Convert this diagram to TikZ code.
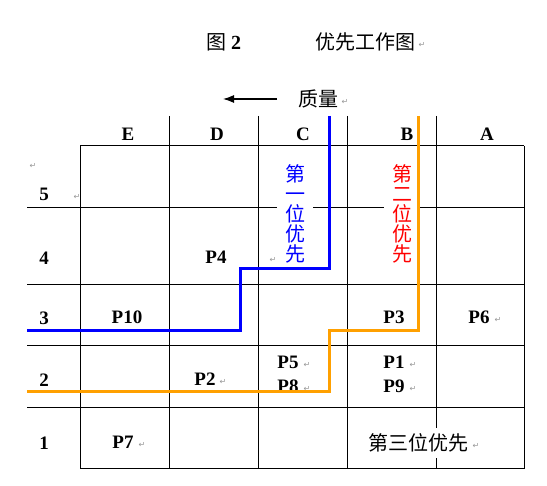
\documentclass[tikz,border=0pt]{standalone}
\usepackage{fontspec}
\setmainfont{Liberation Serif}
\newfontfamily\cjk{Noto Sans CJK SC}
\newfontfamily\symfont{DejaVu Sans}
\usetikzlibrary{arrows.meta}
\definecolor{prioblue}{RGB}{0,0,255}
\definecolor{prioorange}{RGB}{255,160,0}
\definecolor{priored}{RGB}{255,0,0}
\definecolor{markgray}{RGB}{150,150,150}

\begin{document}
\begin{tikzpicture}[x=1pt,y=-1pt,
  gridline/.style={line width=1pt},
  prioline/.style={line width=3pt, line join=miter},
  head/.style={font=\bfseries\fontsize{19}{19}\selectfont, inner sep=0pt},
  job/.style={font=\bfseries\fontsize{19}{19}\selectfont, inner sep=0pt},
  hanzi/.style={font=\cjk\fontsize{20}{20}\selectfont, inner sep=0pt},
  vtext/.style={font=\cjk\fontsize{20}{20}\selectfont, align=center, fill=white, inner xsep=8pt, inner ysep=1pt},
  retmark/.style={font=\symfont\fontsize{8}{8}\selectfont, text=markgray, inner sep=0pt}]
\useasboundingbox (0,0) rectangle (547,486);
% Title
\node[hanzi] (figno) at (224,42) {图 \rmfamily\bfseries 2};
\node[hanzi] (title) at (365,42) {优先工作图};
\node[retmark] (titleret) at (422,45) {↵};
% Quality arrow
\node[hanzi] (quality) at (318,99) {质量};
\node[retmark] (qualityret) at (345,102) {↵};
\coordinate (qtail) at (277,99);
\coordinate (qhead) at (223,99);
\draw[line width=1.2pt, -{Latex[length=11pt,width=8pt]}] (qtail) -- (qhead);
% Grid
\foreach \x in {169,258,347,436}
  \draw[gridline] (\x,116) -- (\x,469);
\foreach \x in {80,524}
  \draw[gridline] (\x,146) -- (\x,469);
\foreach \y in {208,285,346,408}
  \draw[gridline] (27,\y) -- (524,\y);
\draw[gridline] (80,146) -- (524,146);
\draw[gridline] (80,469) -- (524,469);
% Column heads
\node[head] (colE) at (128,134) {E};
\node[head] (colD) at (217,134) {D};
\node[head] (colC) at (303,134) {C};
\node[head] (colB) at (407,134) {B};
\node[head] (colA) at (487,134) {A};
% Row heads
\node[head] (row5) at (44,194) {5};
\node[head] (row4) at (44,258) {4};
\node[head] (row3) at (44,318) {3};
\node[head] (row2) at (44,380) {2};
\node[head] (row1) at (44,443) {1};
\node[retmark] (row5reta) at (33,166) {↵};
\node[retmark] (row5retb) at (77,197) {↵};
% Jobs
\node[job] (p4) at (216,257) {P4};
\node[retmark] (p4ret) at (273,260) {↵};
\node[job] (p10) at (127,317) {P10};
\node[job] (p3) at (394,317) {P3};
\node[job] (p6) at (479,317) {P6};
\node[retmark] (p6ret) at (498,320) {↵};
\node[job] (p5) at (288,362) {P5};
\node[retmark] (p5ret) at (307,365) {↵};
\node[job] (p8) at (288,386) {P8};
\node[retmark] (p8ret) at (307,389) {↵};
\node[job] (p1) at (394,362) {P1};
\node[retmark] (p1ret) at (413,365) {↵};
\node[job] (p9) at (394,386) {P9};
\node[retmark] (p9ret) at (413,389) {↵};
\node[job] (p2) at (205,379) {P2};
\node[retmark] (p2ret) at (223,382) {↵};
\node[job] (p7) at (123,442) {P7};
\node[retmark] (p7ret) at (142,445) {↵};
% Priority labels
\node[vtext, text=prioblue] (firstprio) at (295,214) {第\\一\\位\\优\\先};
\node[vtext, text=priored] (secondprio) at (402,214) {第\\二\\位\\优\\先};
\node[hanzi, fill=white, inner xsep=1pt, inner ysep=6pt] (thirdprio) at (418,443) {第三位优先};
\node[retmark] (thirdret) at (476,446) {↵};
% Priority boundaries
\draw[prioline, prioblue] (329,116) -- (329,269) -- (240,269) -- (240,331) -- (27,331);
\draw[prioline, prioorange] (418,116) -- (418,331) -- (329,331) -- (329,392) -- (27,392);
\end{tikzpicture}
\end{document}
